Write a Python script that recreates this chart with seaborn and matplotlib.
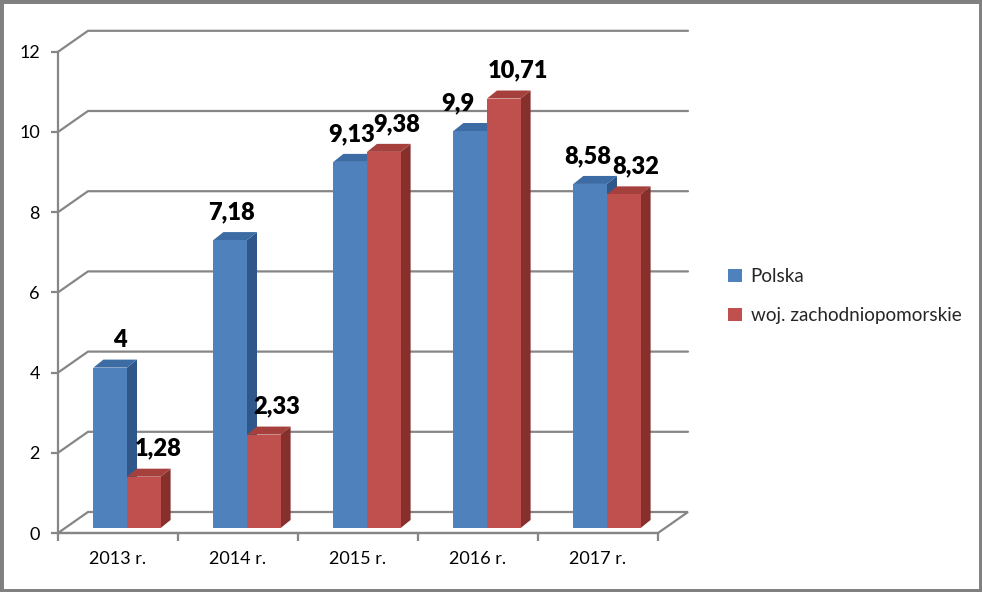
import matplotlib
matplotlib.use("Agg")
import matplotlib.pyplot as plt
import seaborn as sns
import pandas as pd
import numpy as np
from matplotlib.patches import Polygon, Patch, Rectangle

# ---- data ----
categories = ["2013 r.", "2014 r.", "2015 r.", "2016 r.", "2017 r."]
polska = [4, 7.18, 9.13, 9.9, 8.58]
zachodniopomorskie = [1.28, 2.33, 9.38, 10.71, 8.32]
series_names = ["Polska", "woj. zachodniopomorskie"]
polska_labels = ["4", "7,18", "9,13", "9,9", "8,58"]
zach_labels = ["1,28", "2,33", "9,38", "10,71", "8,32"]
y_ticks = [0, 2, 4, 6, 8, 10, 12]

front_colors = ["#4F81BD", "#C0504D"]
top_colors = ["#3D6BA3", "#A5403D"]
side_colors = ["#30578A", "#86302E"]

# horizontal nudges (px) of data labels, as placed in the reference
label_nudges = [[10, 1, 1, -12, -2], [14, 13, 13, 14, 12]]

df = pd.DataFrame({
    "cat": categories * 2,
    "val": polska + zachodniopomorskie,
    "series": [series_names[0]] * 5 + [series_names[1]] * 5,
})

sns.set_theme(style="white")
plt.rcParams["font.family"] = ["Lato", "DejaVu Sans"]

W, H = 982, 592
fig = plt.figure(figsize=(W / 100, H / 100), dpi=100)

def fig_rect(l, r, top, bottom):
    return [l / W, (H - bottom) / H, (r - l) / W, (bottom - top) / H]

# depth offsets in pixels
DX_WALL, DY_WALL = 30, 21
DX_BAR, DY_BAR = 10, 8
PX_PER_UNIT = 40.1

# ---- overlay axes for the 3D walls (pixel coordinates) ----
ax_bg = fig.add_axes([0, 0, 1, 1])
ax_bg.set_xlim(0, W)
ax_bg.set_ylim(H, 0)
ax_bg.axis("off")
grid_c = "#868686"
y0_front = 533
x_left, x_right = 58, 658
for v in y_ticks:
    yf = y0_front - v * PX_PER_UNIT
    yb = yf - DY_WALL
    if v == 0:
        ax_bg.plot([x_left, x_left + DX_WALL, x_right + DX_WALL, x_right, x_left],
                   [yf, yb, yb, yf, yf], color=grid_c, lw=1.6, solid_joinstyle="miter")
    else:
        ax_bg.plot([x_left, x_left + DX_WALL, x_right + DX_WALL],
                   [yf, yb, yb], color=grid_c, lw=1.6)

# ---- front axis for ticks ----
ax_f = fig.add_axes(fig_rect(x_left, x_right, y0_front - 12 * PX_PER_UNIT, y0_front))
ax_f.patch.set_alpha(0)
ax_f.set_xlim(-0.5, 4.5)
ax_f.set_ylim(0, 12)
for s in ["top", "right"]:
    ax_f.spines[s].set_visible(False)
for s in ["left", "bottom"]:
    ax_f.spines[s].set_color(grid_c)
    ax_f.spines[s].set_linewidth(1.6)
ax_f.set_yticks(y_ticks)
ax_f.set_yticklabels([str(v) for v in y_ticks])
ax_f.set_xticks(range(len(categories)))
ax_f.set_xticklabels(categories)
ax_f.set_xticks(np.arange(-0.5, 5, 1), minor=True)
ax_f.tick_params(axis="y", which="major", length=5, width=1.6, color=grid_c,
                 labelsize=13, pad=8, left=True, direction="out")
ax_f.tick_params(axis="x", which="major", length=0, labelsize=13, pad=13)
ax_f.tick_params(axis="x", which="minor", length=6, width=1.6, color=grid_c,
                 bottom=True, direction="out")
for lab in ax_f.get_xticklabels() + ax_f.get_yticklabels():
    lab.set_color("#000000")

# ---- bars axes ----
bar_bottom = 528
ax = fig.add_axes(fig_rect(x_left + 9, x_right + 9, bar_bottom - 12 * PX_PER_UNIT, bar_bottom))
ax.patch.set_alpha(0)
sns.barplot(data=df, x="cat", y="val", hue="series", palette=front_colors,
            width=0.56, ax=ax, legend=False, saturation=1, linewidth=0)
ax.set_xlim(-0.5, 4.5)
ax.set_ylim(0, 12)
ax.axis("off")

fig.canvas.draw()
to_px = ax.transData
inv = ax_bg.transData.inverted()
bars = [p for p in ax.patches if isinstance(p, Rectangle) and p.get_height() > 0]
label_lists = [polska_labels, zach_labels]
n = len(categories)
for i, p in enumerate(bars):
    s_idx = i // n
    c_idx = i % n
    x0, y0 = p.get_x(), 0
    x1, y1 = p.get_x() + p.get_width(), p.get_height()
    (px0, py0) = inv.transform(to_px.transform((x0, y0)))
    (px1, py1) = inv.transform(to_px.transform((x1, y1)))
    side = Polygon([(px1, py0), (px1 + DX_BAR, py0 - DY_BAR),
                    (px1 + DX_BAR, py1 - DY_BAR), (px1, py1)],
                   closed=True, facecolor=side_colors[s_idx], edgecolor="none", zorder=3)
    top = Polygon([(px0, py1), (px0 + DX_BAR, py1 - DY_BAR),
                   (px1 + DX_BAR, py1 - DY_BAR), (px1, py1)],
                  closed=True, facecolor=top_colors[s_idx], edgecolor="none", zorder=3)
    front = Polygon([(px0, py0), (px1, py0), (px1, py1), (px0, py1)],
                    closed=True, facecolor=front_colors[s_idx], edgecolor="none", zorder=4)
    ax_bg.add_patch(side)
    ax_bg.add_patch(top)
    ax_bg.add_patch(front)
    p.set_visible(False)
    ax_bg.text((px0 + px1) / 2 + label_nudges[s_idx][c_idx], py1 - DY_BAR - 9,
               label_lists[s_idx][c_idx], ha="center", va="bottom",
               fontsize=17, fontweight="heavy", color="#000000", zorder=6)

# ---- legend ----
handles = [Patch(facecolor=c, edgecolor="none") for c in front_colors]
fig.legend(handles, series_names, loc="center left",
           bbox_to_anchor=(719 / W, 1 - 296 / H), frameon=False,
           fontsize=13.6, handlelength=0.72, handleheight=0.72, handletextpad=0.45,
           labelspacing=1.15, borderpad=0)

# ---- outer frame ----
fig.add_artist(Rectangle((0, 0), 1, 1, transform=fig.transFigure, fill=False,
                         edgecolor="#808080", linewidth=5, zorder=10))

fig.savefig("out.png", dpi=100)
